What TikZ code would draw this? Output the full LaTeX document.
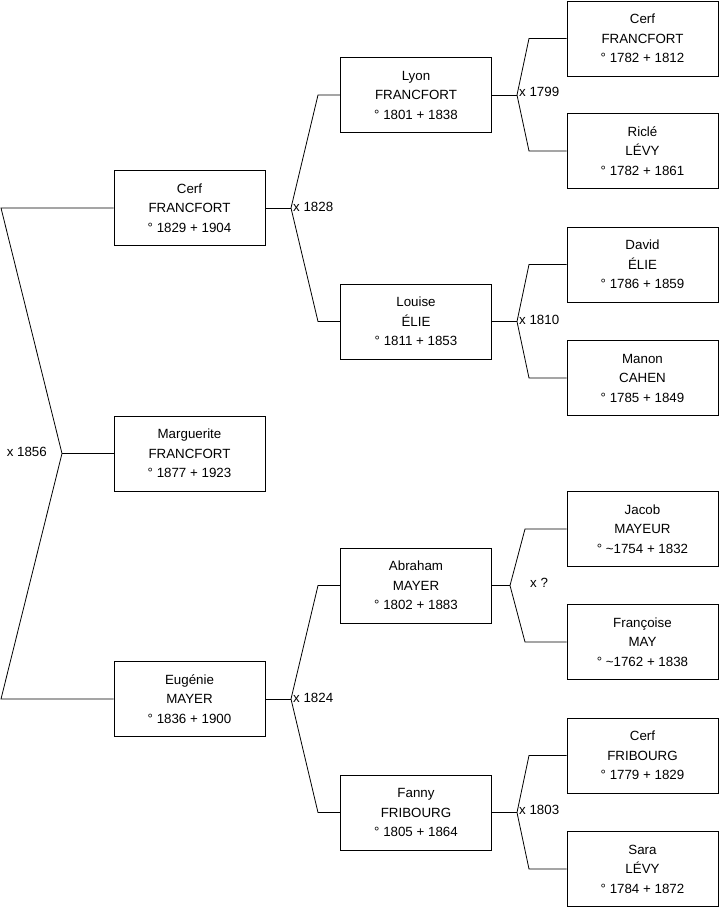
\documentclass[tikz,border=0pt]{standalone}
\usepackage{fontspec}
\setmainfont{Liberation Sans}
\begin{document}
\begin{tikzpicture}[x=1pt,y=-1pt,
  person/.style={draw, minimum width=151pt, minimum height=75pt, inner sep=0pt, align=center, font=\fontsize{13.33}{19.5}\selectfont, line width=0.8pt},
  link/.style={line width=0.8pt},
  lbl/.style={font=\fontsize{13.33}{15}\selectfont, inner sep=0pt}]
\useasboundingbox (0,0) rectangle (719,908);
% column 1
\node[person] (cerf) at (189.5,208) {Cerf\\FRANCFORT\\° 1829 + 1904};
\node[person] (marg) at (189.5,453.5) {Marguerite\\FRANCFORT\\° 1877 + 1923};
\node[person] (eug) at (189.5,699) {Eugénie\\MAYER\\° 1836 + 1900};
% column 2
\node[person] (lyon) at (416,95) {Lyon\\FRANCFORT\\° 1801 + 1838};
\node[person] (louise) at (416,321.5) {Louise\\ÉLIE\\° 1811 + 1853};
\node[person] (abr) at (416,585.5) {Abraham\\MAYER\\° 1802 + 1883};
\node[person] (fanny) at (416,812.5) {Fanny\\FRIBOURG\\° 1805 + 1864};
% column 3
\node[person] (cerfF) at (642.5,38.5) {Cerf\\FRANCFORT\\° 1782 + 1812};
\node[person] (ricle) at (642.5,151) {Riclé\\LÉVY\\° 1782 + 1861};
\node[person] (david) at (642.5,264.5) {David\\ÉLIE\\° 1786 + 1859};
\node[person] (manon) at (642.5,378) {Manon\\CAHEN\\° 1785 + 1849};
\node[person] (jacob) at (642.5,529) {Jacob\\MAYEUR\\° \textasciitilde 1754 + 1832};
\node[person] (franc) at (642.5,642) {Françoise\\MAY\\° \textasciitilde 1762 + 1838};
\node[person] (cerfB) at (642.5,755.5) {Cerf\\FRIBOURG\\° 1779 + 1829};
\node[person] (sara) at (642.5,869) {Sara\\LÉVY\\° 1784 + 1872};
% fork points
\coordinate (f0) at (62,453.5);
\coordinate (f1) at (291,208);
\coordinate (f2) at (291,699);
\coordinate (f3) at (517,95);
\coordinate (f4) at (517,321.5);
\coordinate (f5) at (510,585.5);
\coordinate (f6) at (517,812.5);
% connectors
\draw[link] (marg.west) -- (f0);
\draw[link] (f0) -- (1,208) -- (cerf.west);
\draw[link] (f0) -- (1,699) -- (eug.west);
\draw[link] (cerf.east) -- (f1);
\draw[link] (f1) -- (318,95) -- (lyon.west);
\draw[link] (f1) -- (318,321.5) -- (louise.west);
\draw[link] (eug.east) -- (f2);
\draw[link] (f2) -- (318,585.5) -- (abr.west);
\draw[link] (f2) -- (318,812.5) -- (fanny.west);
\draw[link] (lyon.east) -- (f3);
\draw[link] (f3) -- (529,38.5) -- (cerfF.west);
\draw[link] (f3) -- (529,151) -- (ricle.west);
\draw[link] (louise.east) -- (f4);
\draw[link] (f4) -- (529,264.5) -- (david.west);
\draw[link] (f4) -- (529,378) -- (manon.west);
\draw[link] (abr.east) -- (f5);
\draw[link] (f5) -- (525,529) -- (jacob.west);
\draw[link] (f5) -- (525,642) -- (franc.west);
\draw[link] (fanny.east) -- (f6);
\draw[link] (f6) -- (529,755.5) -- (cerfB.west);
\draw[link] (f6) -- (529,869) -- (sara.west);
% labels
\node[lbl, anchor=east] (l0) at (47,452) {x 1856};
\node[lbl, anchor=west] (l1) at (293,207) {x 1828};
\node[lbl, anchor=west] (l2) at (293,698) {x 1824};
\node[lbl, anchor=west] (l3) at (519,92) {x 1799};
\node[lbl, anchor=west] (l4) at (519,320) {x 1810};
\node[lbl, anchor=west] (l5) at (530,583) {x ?};
\node[lbl, anchor=west] (l6) at (519,810) {x 1803};
\end{tikzpicture}
\end{document}
